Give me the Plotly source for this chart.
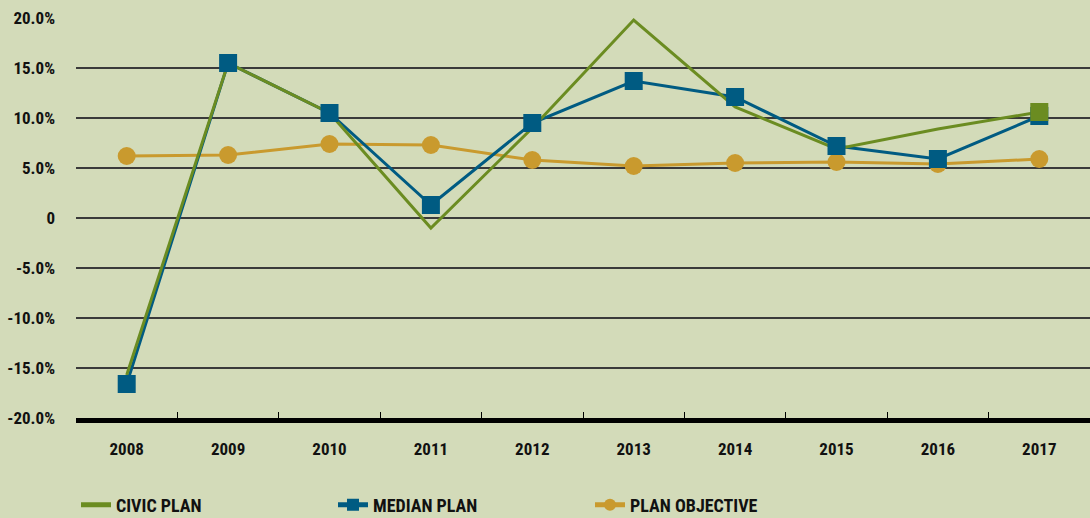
import plotly.graph_objects as go

years = ["2008", "2009", "2010", "2011", "2012", "2013", "2014", "2015", "2016", "2017"]
civic_plan = [-15.7, 15.5, 10.5, -1.0, 9.0, 19.8, 11.1, 6.9, 8.9, 10.6]
median_plan = [-16.6, 15.5, 10.5, 1.3, 9.5, 13.7, 12.1, 7.2, 5.9, 10.2]
plan_objective = [6.2, 6.3, 7.4, 7.3, 5.8, 5.2, 5.5, 5.6, 5.4, 5.9]

y_tickvals = [20, 15, 10, 5, 0, -5, -10, -15, -20]
y_ticktext = ["20.0%", "15.0%", "10.0%", "5.0%", "0", "-5.0%", "-10.0%", "-15.0%", "-20.0%"]

GREEN = "#6b8c21"
BLUE = "#005b82"
GOLD = "#c99a2e"
BG = "#d3dbb9"
FONT = "Roboto Condensed"

fig = go.Figure()

fig.add_trace(go.Scatter(x=years, y=plan_objective, mode="lines+markers", name="PLAN OBJECTIVE",
                         line=dict(color=GOLD, width=3), marker=dict(symbol="circle", size=18, color=GOLD),
                         showlegend=False))
fig.add_trace(go.Scatter(x=years, y=median_plan, mode="lines", line=dict(color=BLUE, width=3),
                         showlegend=False, hoverinfo="skip"))
fig.add_trace(go.Scatter(x=years, y=civic_plan, mode="lines", name="CIVIC PLAN",
                         line=dict(color=GREEN, width=3), legendrank=1))
fig.add_trace(go.Scatter(x=years, y=median_plan, mode="markers", name="MEDIAN PLAN",
                         marker=dict(symbol="square", size=18, color=BLUE), showlegend=False))
fig.add_trace(go.Scatter(x=years[-1:], y=civic_plan[-1:], mode="markers", name="CIVIC PLAN",
                         marker=dict(symbol="square", size=18, color=GREEN), showlegend=False))

# legend entries
fig.add_trace(go.Scatter(x=[None], y=[None], mode="lines+markers", name="MEDIAN PLAN",
                         line=dict(color=BLUE, width=3), marker=dict(symbol="square", size=10, color=BLUE),
                         legendrank=2))
fig.add_trace(go.Scatter(x=[None], y=[None], mode="lines+markers", name="PLAN OBJECTIVE",
                         line=dict(color=GOLD, width=3), marker=dict(symbol="circle", size=10, color=GOLD),
                         legendrank=3))

fig.update_layout(
    width=1090, height=518,
    paper_bgcolor=BG, plot_bgcolor=BG,
    margin=dict(l=76, r=0, t=17, b=100, autoexpand=False),
    font=dict(family=FONT, size=17, color="#111111", weight="bold"),
    showlegend=True,
    legend=dict(orientation="h", x=0.0, xanchor="left", y=-0.171, yanchor="top",
                entrywidth=212, entrywidthmode="pixels", bgcolor="rgba(0,0,0,0)",
                font=dict(family=FONT, size=18, color="#111111", weight="bold"),
                itemsizing="constant", traceorder="normal"),
)

fig.update_xaxes(type="category", range=[-0.5, 9.5], showgrid=False, zeroline=False,
                 showline=True, linecolor="#000000", linewidth=5,
                 ticks="inside", tickson="boundaries", ticklen=6, tickcolor="#000000", tickwidth=1,
                 ticklabelstandoff=12, tickfont=dict(family=FONT, size=17, weight="bold"))
fig.update_yaxes(range=[-20, 20.1], tickvals=y_tickvals, ticktext=y_ticktext,
                 showgrid=True, gridcolor="#3a3a3a", gridwidth=1.5, zeroline=False,
                 showline=False, ticks="", ticklabelstandoff=20,
                 tickfont=dict(family=FONT, size=17, weight="bold"))

fig.write_html("out.html", config={"displayModeBar": False},
               post_script="document.body.style.margin='0';document.body.style.overflow='hidden';")
